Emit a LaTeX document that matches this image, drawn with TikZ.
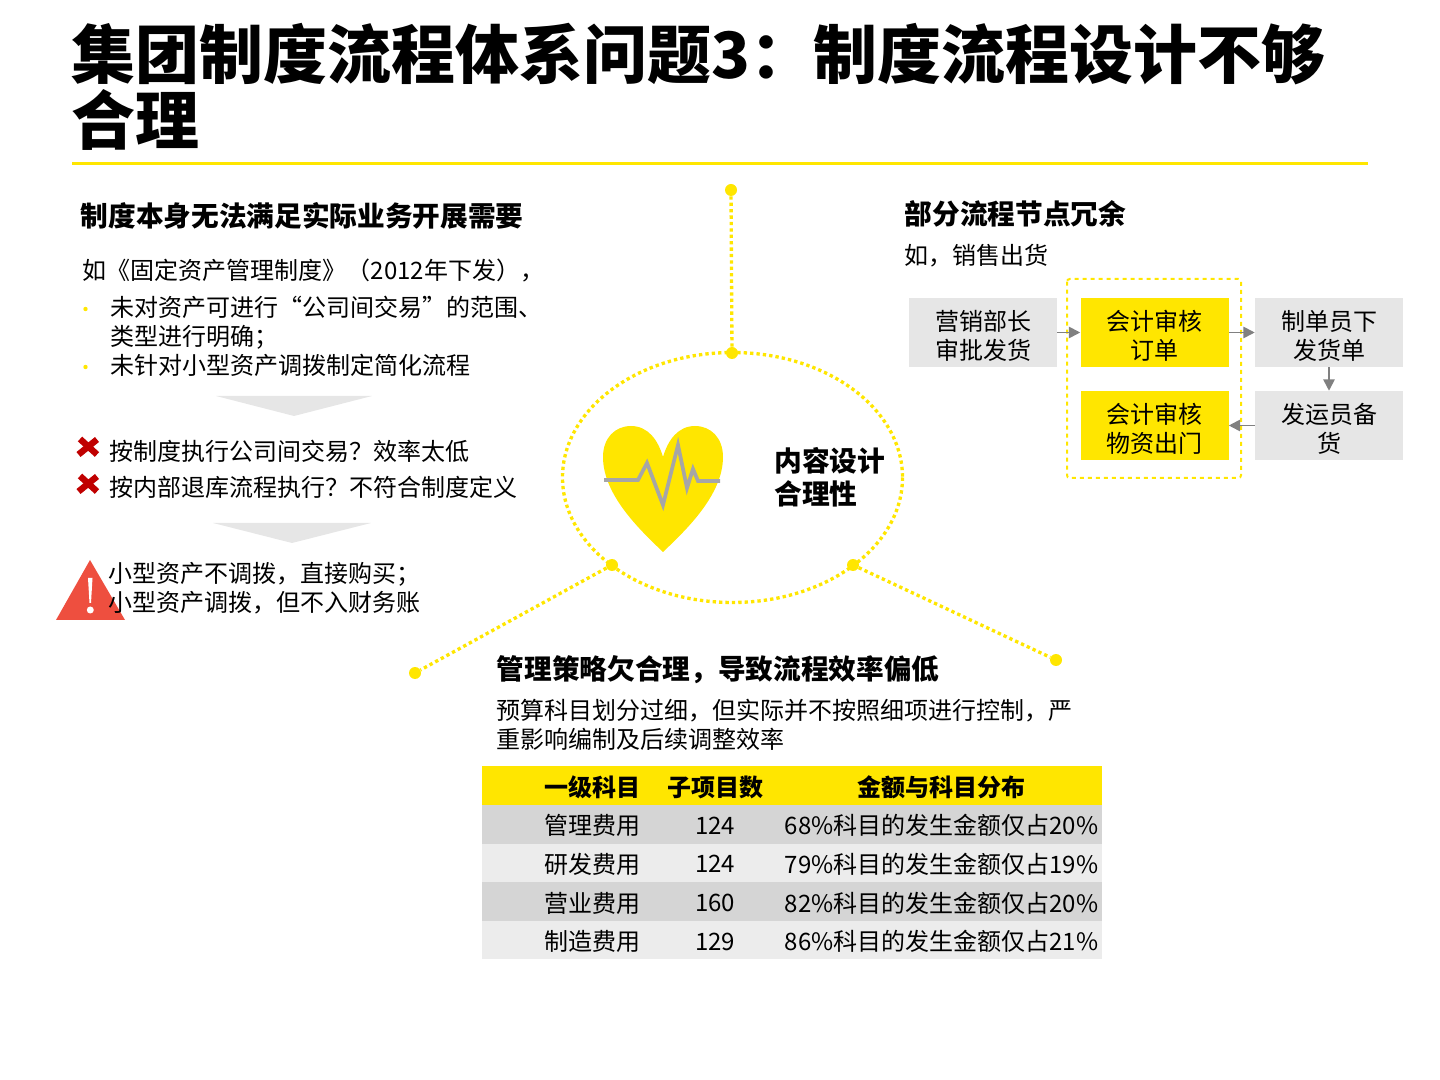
\documentclass[tikz,border=0pt]{standalone}
\usepackage{fontspec}
\setmainfont{Noto Sans CJK SC}
\usepackage{tikz}
\usetikzlibrary{positioning}
\usetikzlibrary{arrows.meta}

\definecolor{eyyellow}{HTML}{FFE600}
\definecolor{boxgray}{HTML}{E6E6E6}
\definecolor{rowdark}{HTML}{D5D5D5}
\definecolor{rowlight}{HTML}{ECECEC}
\definecolor{crossred}{HTML}{C00000}
\definecolor{warnred}{HTML}{EE4F3F}

\tikzset{
    titletext/.style={anchor=west, inner sep=0, align=left, font=\fontsize{47.95}{49.5}\selectfont\bfseries},
    headtext/.style={anchor=west, inner sep=0, align=left, font=\fontsize{20.75}{24}\selectfont\bfseries},
    bodytext/.style={anchor=west, inner sep=0, align=left, font=\fontsize{18}{21.75}\selectfont},
    flowbox/.style={inner sep=0, minimum width=111pt, minimum height=51.75pt},
    flowtext/.style={label={[inner sep=0, align=center, font=\fontsize{18}{21.75}\selectfont, yshift=-2.25pt]center:{#1}}},
    graybox/.style={flowbox, fill=boxgray},
    yellowbox/.style={flowbox, fill=eyyellow},
    flowarrow/.style={draw=gray, line width=1.3pt, -{Triangle[length=8.5pt,width=8.5pt]}},
    dotline/.style={draw=eyyellow, line width=2.5pt, dash pattern=on 2.5pt off 2.3pt},
    dotnode/.style={circle, fill=eyyellow, inner sep=0, minimum size=9pt},
    cellbox/.style={inner sep=0, font=\fontsize{18}{21.75}\selectfont},
}

\begin{document}
\begin{tikzpicture}[x=0.75pt,y=-0.75pt]
\useasboundingbox (0,0) rectangle (1440,1080);

% title
\node[titletext] (title) at (71.5,87) {集团制度流程体系问题3：制度流程设计不够\\合理};
\coordinate (ruleleft) at (72,164);
\coordinate (ruleright) at (1368,164);
\draw[eyyellow, line width=2.25pt] (ruleleft) -- (ruleright);

% left column
\node[headtext] (lefthead) at (80.5,216) {制度本身无法满足实际业务开展需要};
\node[bodytext] (leftintro) at (82.5,271) {如《固定资产管理制度》（2012年下发），};
\node[bodytext] (leftone) at (110,322.5) {未对资产可进行“公司间交易”的范围、\\类型进行明确；};
\node[bodytext] (lefttwo) at (110,365) {未针对小型资产调拨制定简化流程};
\path[fill=eyyellow] (85.5,309) circle (2.2);
\path[fill=eyyellow] (85.5,367) circle (2.2);

\path[fill=boxgray] (216,396) -- (372,396) -- (294,416) -- cycle;
\path[fill=boxgray] (213,523) -- (371,523) -- (292,543) -- cycle;

\foreach \y in {447,484} {
    \draw[crossred, line width=4.8pt] (78.5,\y+7.5) -- (97,\y-7.5);
    \draw[crossred, line width=4.8pt] (80,\y-8) -- (97,\y+7.5);
}
\node[bodytext] (crossone) at (109.5,451) {按制度执行公司间交易？效率太低};
\node[bodytext] (crosstwo) at (109.5,487) {按内部退库流程执行？不符合制度定义};

\path[fill=warnred] (56,620) -- (90,560) -- (125,620) -- cycle;
\path[fill=white] (88,578) -- (92.5,578) -- (91,603) -- (89.5,603) -- cycle;
\path[fill=white] (90.3,610) circle (3.5);
\node[bodytext] (warntext) at (108.5,588) {小型资产不调拨，直接购买；\\小型资产调拨，但不入财务账};

% centre
\coordinate (ring) at (732.5,477.5);
\draw[dotline] (ring) ellipse (170 and 125);
\node[dotnode] (dottop) at (731,190) {};
\node[dotnode] (ringtop) at (732,353) {};
\node[dotnode] (ringleft) at (612,565) {};
\node[dotnode] (ringright) at (853,565) {};
\node[dotnode] (dotleft) at (415,673) {};
\node[dotnode] (dotright) at (1056,660) {};
\draw[dotline] (dottop) -- (ringtop);
\draw[dotline] (ringleft) -- (dotleft);
\draw[dotline] (ringright) -- (dotright);

\path[fill=eyyellow] (663,552) .. controls (640,530) and (603,495) .. (603,457)
    .. controls (603,438) and (615,426) .. (631,426)
    .. controls (648,426) and (658,440) .. (663,457)
    .. controls (668,440) and (678,426) .. (695,426)
    .. controls (711,426) and (723,438) .. (723,457)
    .. controls (723,495) and (686,530) .. (663,552) -- cycle;
\draw[gray!70, line width=2.8pt] (604,480) -- (638,480) -- (647,463) -- (663,505) -- (678,445) -- (687,488) -- (693,469) -- (698,481) -- (720,481);
\node[headtext, font=\fontsize{20.8}{24.75}\selectfont\bfseries] (hearttext) at (774,477.5) {内容设计\\合理性};

% flow
\draw[eyyellow, line width=1.5pt, dashed, rounded corners=2pt] (1067,279) rectangle (1241,478);
\node[graybox, flowtext={营销部长\\审批发货}] (approve) at (983,332.5) {};
\node[yellowbox, flowtext={会计审核\\订单}] (audit) at (1154.5,332.5) {};
\node[graybox, flowtext={制单员下\\发货单}] (clerk) at (1329,332.5) {};
\node[graybox, flowtext={发运员备\\货}] (ship) at (1329,425.5) {};
\node[yellowbox, flowtext={会计审核\\物资出门}] (gate) at (1154.5,425.5) {};
\draw[flowarrow] (approve) -- (audit);
\draw[flowarrow] (audit) -- (clerk);
\draw[flowarrow] (clerk) -- (ship);
\draw[flowarrow] (ship) -- (gate);
\node[headtext] (righthead) at (904.5,214) {部分流程节点冗余};
\node[bodytext] (rightintro) at (904.5,256) {如，销售出货};

% bottom
\node[headtext] (lowhead) at (496.5,670) {管理策略欠合理，导致流程效率偏低};
\node[bodytext] (lowtext) at (496.5,724.5) {预算科目划分过细，但实际并不按照细项进行控制，严\\重影响编制及后续调整效率};

% table
\path[fill=eyyellow] (482,766) rectangle (1102,805);
\path[fill=rowdark] (482,805) rectangle (1102,844);
\path[fill=rowlight] (482,844) rectangle (1102,882);
\path[fill=rowdark] (482,882) rectangle (1102,921);
\path[fill=rowlight] (482,921) rectangle (1102,959);
\node[cellbox, anchor=east, font=\fontsize{18}{21.75}\selectfont\bfseries] (headone) at (641,787) {一级科目};
\node[cellbox, font=\fontsize{18}{21.75}\selectfont\bfseries] (headtwo) at (715,787) {子项目数};
\node[cellbox, font=\fontsize{18}{21.75}\selectfont\bfseries] (headthree) at (941,787) {金额与科目分布};
\foreach \y/\name/\num/\share in {825.5/管理费用/124/68\%科目的发生金额仅占20\%,864/研发费用/124/79\%科目的发生金额仅占19\%,903/营业费用/160/82\%科目的发生金额仅占20\%,941.5/制造费用/129/86\%科目的发生金额仅占21\%} {
    \node[cellbox, anchor=east] (name\y) at (641,\y) {\name};
    \node[cellbox] (num\y) at (715,\y) {\num};
    \node[cellbox] (share\y) at (941.5,\y) {\share};
}

\end{tikzpicture}
\end{document}
